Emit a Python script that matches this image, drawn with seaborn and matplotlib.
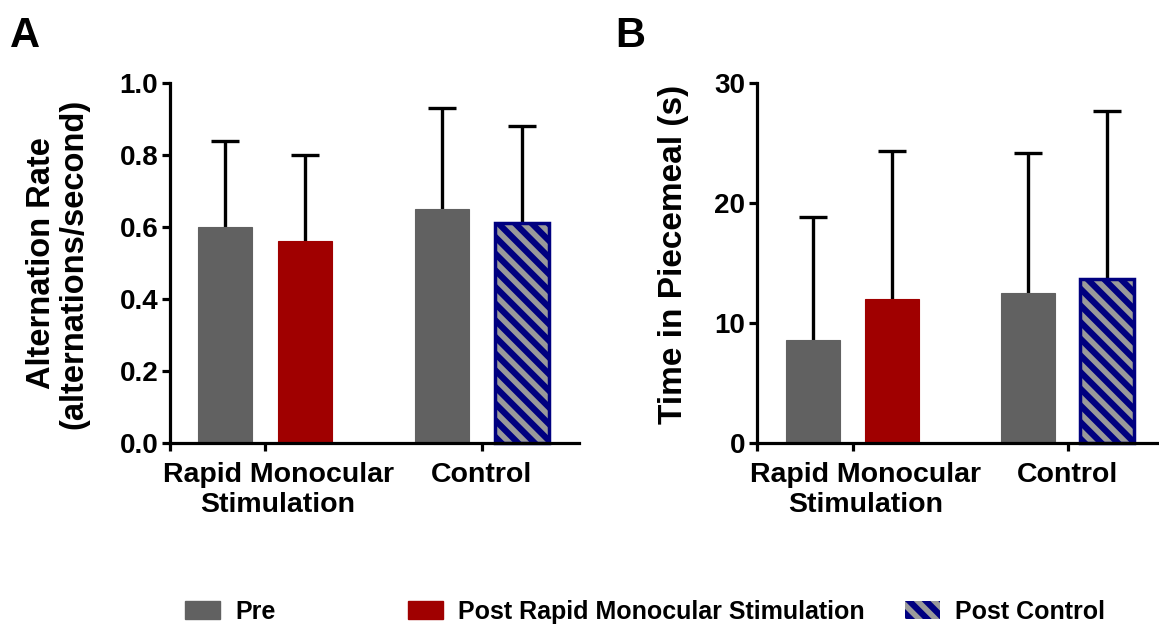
import pandas as pd
import matplotlib
matplotlib.use("Agg")
import matplotlib.pyplot as plt
from matplotlib.patches import Patch, Rectangle
from matplotlib.transforms import ScaledTranslation
import seaborn as sns

groups = ["Rapid Monocular\nStimulation", "Control"]
phases = ["Pre", "Post"]

# panel A: alternation rate
rate_pre = [0.60, 0.65]
rate_post = [0.56, 0.61]
rate_pre_sd = [0.24, 0.28]
rate_post_sd = [0.24, 0.27]

# panel B: time in piecemeal
time_pre = [8.6, 12.5]
time_post = [12.0, 13.7]
time_pre_sd = [10.2, 11.7]
time_post_sd = [12.3, 14.0]

legend_labels = ["Pre", "Post Rapid Monocular Stimulation", "Post Control"]

GRAY = "#616161"
RED = "#a00000"
NAVY = "#000080"
STRIPE = "#9a9a9a"

sns.set_style("ticks")
plt.rcParams["font.family"] = ["Liberation Sans", "DejaVu Sans"]
plt.rcParams["font.weight"] = "bold"
plt.rcParams["text.color"] = "black"
plt.rcParams["xtick.color"] = "black"
plt.rcParams["ytick.color"] = "black"
plt.rcParams["hatch.linewidth"] = 4.0

fig = plt.figure(figsize=(11.59, 6.32), dpi=100)
axA = fig.add_axes([0.1467, 0.299, 0.353, 0.5696])
axB = fig.add_axes([0.6532, 0.299, 0.3469, 0.5696])


def draw_panel(ax, pre, post, pre_sd, post_sd, ymax, yticks, ticklabels, xlim):
    df = pd.DataFrame({
        "group": groups * 2,
        "phase": ["Pre"] * 2 + ["Post"] * 2,
        "value": pre + post,
    })
    sns.barplot(data=df, x="group", y="value", hue="phase", hue_order=phases,
                order=groups, palette=[GRAY, RED], width=0.74, gap=0.325,
                errorbar=None, legend=False, ax=ax, saturation=1)
    bars = sorted(ax.patches, key=lambda p: p.get_x())
    colors = [GRAY, RED, GRAY, NAVY]
    errs = [pre_sd[0], post_sd[0], pre_sd[1], post_sd[1]]
    xs, ys = [], []
    for b, c in zip(bars, colors):
        b.set_facecolor(c)
        b.set_edgecolor(c)
        b.set_linewidth(0.8)
        b.set_zorder(2)
        xs.append(b.get_x() + b.get_width() / 2)
        ys.append(b.get_height())
    hb = bars[3]
    hb.set_edgecolor(STRIPE)
    hb.set_hatch("\\\\")
    hb.set_linewidth(0)
    ax.add_patch(Rectangle(hb.get_xy(), hb.get_width(), hb.get_height(),
                           fill=False, edgecolor=NAVY, linewidth=2.5, zorder=3))
    eb = ax.errorbar(xs, ys, yerr=[[0] * 4, errs], fmt="none", ecolor="black",
                     elinewidth=2.4, capsize=10, capthick=2.4, zorder=1)
    # keep only the upper caps
    eb[1][0].remove()

    ax.set_xlim(*xlim)
    ax.set_ylim(0, ymax)
    ax.set_yticks(yticks)
    ax.set_yticklabels(ticklabels)
    ax.set_xticks([0, 1])
    ax.set_xticks([xlim[0]], minor=True)
    ax.set_xlabel("")
    ax.set_ylabel("")
    sns.despine(ax=ax)
    for s in ["left", "bottom"]:
        ax.spines[s].set_linewidth(2.3)
        ax.spines[s].set_color("black")
        ax.spines[s].set_zorder(4)
    ax.tick_params(axis="both", which="both", width=2.3, length=5.5,
                   color="black", labelcolor="black", pad=3)
    ax.tick_params(axis="y", labelsize=20)
    ax.tick_params(axis="x", labelsize=20.5, pad=8)
    for lab in ax.get_xticklabels() + ax.get_yticklabels():
        lab.set_fontweight("bold")
    first = ax.get_xticklabels()[0]
    first.set_transform(first.get_transform() +
                        ScaledTranslation(13 / 100, 0, fig.dpi_scale_trans))
    for a in ax.get_children():
        try:
            a.set_clip_on(False)
        except Exception:
            pass


draw_panel(axA, rate_pre, rate_post, rate_pre_sd, rate_post_sd, 1.0,
           [0, 0.2, 0.4, 0.6, 0.8, 1.0], ["0.0", "0.2", "0.4", "0.6", "0.8", "1.0"],
           (-0.439, 1.450))
draw_panel(axB, time_pre, time_post, time_pre_sd, time_post_sd, 30,
           [0, 10, 20, 30], ["0", "10", "20", "30"], (-0.444, 1.426))

fig.text(0.050, 0.583, "Alternation Rate\n(alternations/second)", rotation=90,
         ha="center", va="center", fontsize=23.5, fontweight="bold", linespacing=1.05)
fig.text(0.581, 0.598, "Time in Piecemeal (s)", rotation=90,
         ha="center", va="center", fontsize=24, fontweight="bold")

fig.text(0.009, 0.975, "A", fontsize=30, fontweight="bold", va="top", ha="left")
fig.text(0.531, 0.975, "B", fontsize=30, fontweight="bold", va="top", ha="left")

handles = [
    Patch(facecolor=GRAY, edgecolor=GRAY),
    Patch(facecolor=RED, edgecolor=RED),
    Patch(facecolor=NAVY, edgecolor=STRIPE, hatch="\\\\", linewidth=0),
]
legend_x = [185 / 1159, 408 / 1159, 905 / 1159]
for h, lab, lx in zip(handles, legend_labels, legend_x):
    fig.legend([h], [lab], loc="center left", bbox_to_anchor=(lx, 0.032),
               frameon=False, borderpad=0, borderaxespad=0, handlelength=1.4,
               handleheight=0.75, handletextpad=0.6,
               prop={"size": 18, "weight": "bold"})

fig.savefig("out.png", dpi=100)
